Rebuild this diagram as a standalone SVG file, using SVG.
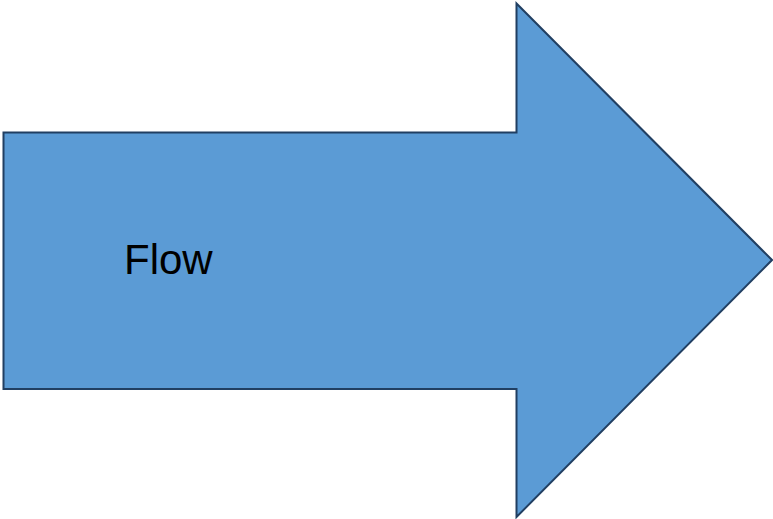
<svg xmlns="http://www.w3.org/2000/svg" width="773" height="519" viewBox="0 0 773 519">
<style>
.arrow{fill:#5B9BD5;stroke:#213F62;stroke-width:2;stroke-linejoin:miter}
.lbl{font-family:"Liberation Sans",Arial,sans-serif;font-size:42px;fill:#000}
</style>
<rect width="773" height="519" fill="#fff"/>
<g id="flow-arrow">
<polygon class="arrow" points="3.5,132.5 516.5,132.5 516.5,3.5 772,260 516.5,517 516.5,389 3.5,389"/>
<text class="lbl" x="124" y="274">Flow</text>
</g>
<g id="connectors"></g>
</svg>
